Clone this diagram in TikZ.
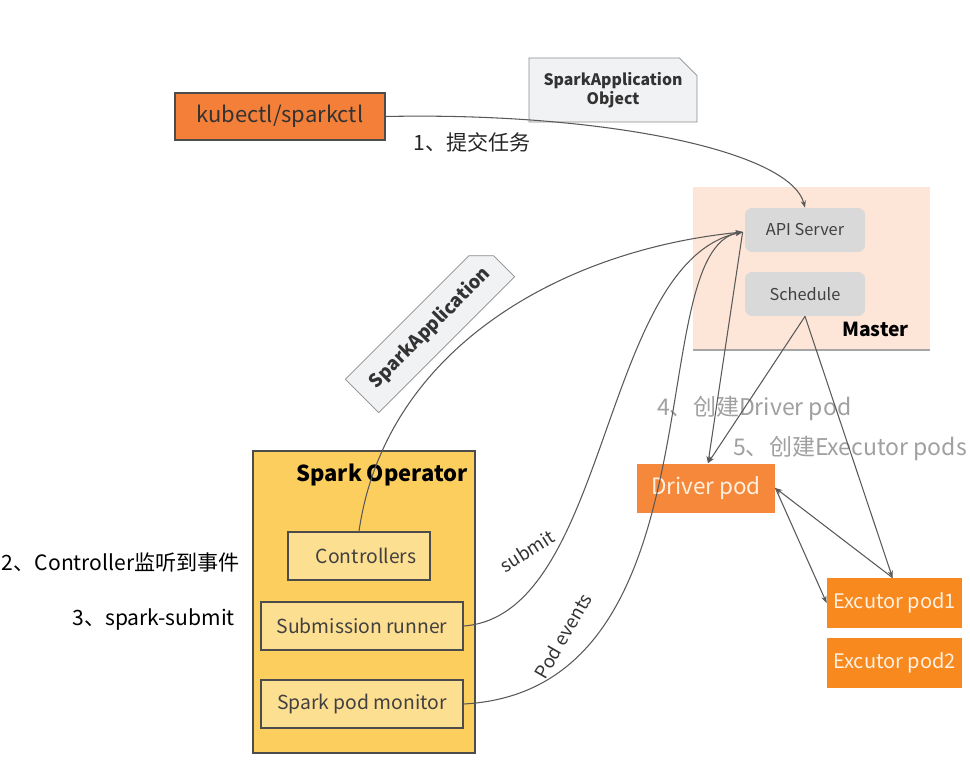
\documentclass[tikz,border=0pt]{standalone}
\usepackage{fontspec}
\setmainfont{Noto Sans CJK SC}
\usepackage{xcolor}
\usetikzlibrary{arrows.meta, positioning, calc, shapes.misc}

\definecolor{ctlorange}{HTML}{F47F38}
\definecolor{podorange}{HTML}{F5883A}
\definecolor{exeorange}{HTML}{F7891F}
\definecolor{masterbg}{HTML}{FDE6D8}
\definecolor{kgray}{HTML}{D9D9D9}
\definecolor{opyellow}{HTML}{FBCE5E}
\definecolor{opinner}{HTML}{FDDF92}
\definecolor{linegray}{HTML}{595959}
\definecolor{stepgray}{HTML}{A0A0A0}
\definecolor{notebg}{HTML}{F1F2F4}

\tikzset{
    box/.style={rectangle, draw=#1, line width=0.8pt, align=center, inner sep=0pt},
    kbox/.style={rectangle, fill=kgray, rounded corners=4pt, minimum width=120*0.02cm, minimum height=44*0.02cm,
        font=\fontsize{9.3}{11}\selectfont, text=black!75},
    podbox/.style={rectangle, fill=#1, text=orange!12, inner sep=0pt},
    opbox/.style={box=black!70, fill=opinner, text=black!75, font=\fontsize{11}{13}\selectfont},
    note/.style={chamfered rectangle, chamfered rectangle corners=north east, chamfered rectangle xsep=5pt,
        chamfered rectangle ysep=5pt, draw=black!45, fill=notebg, align=center, inner sep=3pt,
        font=\bfseries\fontsize{9}{11}\selectfont, text=black!80},
    conn/.style={draw=linegray, line width=0.6pt, -{Stealth[length=4pt, width=3pt]}},
    steplabel/.style={font=\fontsize{12}{14}\selectfont},
    graylabel/.style={font=\fontsize{13.1}{15}\selectfont, text=stepgray, anchor=west},
}

\begin{document}
\begin{tikzpicture}[x=0.02cm, y=-0.02cm]
    \useasboundingbox[fill=white] (0,0) rectangle (970,767);

    % 客户端
    \node[box=black!70, fill=ctlorange, minimum width=210*0.02cm, minimum height=47*0.02cm,
        font=\fontsize{12.5}{14}\selectfont, text=black!80] (kubectl) at (280,116.5) {kubectl/sparkctl};
    \node[steplabel, text=black!85] (step1) at (472,142) {1、提交任务};
    \node[note, minimum width=168*0.02cm, minimum height=58*0.02cm] (appobj) at (613,90) {SparkApplication\\Object};

    % Master
    \fill[masterbg] (693,187) rectangle (930,350);
    \draw[black!35, line width=1pt] (693,350) -- (930,350);
    \node[font=\bfseries\fontsize{11}{13}\selectfont, anchor=south east] (master) at (915,343) {Master};
    \node[kbox] (api) at (805,230) {API Server};
    \node[kbox] (sched) at (805,294) {Schedule};

    % Spark Operator
    \node[box=black!70, fill=opyellow, minimum width=222*0.02cm, minimum height=302*0.02cm] (operator) at (364,602) {};
    \node[font=\bfseries\fontsize{12.5}{14}\selectfont, anchor=north east] (optitle) at ($(operator.north east)+(-2,7)$) {Spark Operator};
    \node[opbox, minimum width=142*0.02cm, minimum height=48*0.02cm] (ctrl) at (359,556) {\hspace{8pt}Controllers};
    \node[opbox, minimum width=202*0.02cm, minimum height=48*0.02cm] (runner) at (362,626) {Submission runner};
    \node[opbox, minimum width=202*0.02cm, minimum height=48*0.02cm] (monitor) at (362,704) {Spark pod monitor};

    % 步骤说明
    \node[steplabel, anchor=east] (step2) at (246,563) {2、Controller监听到事件};
    \node[steplabel, anchor=east] (step3) at (241,620) {3、spark-submit};
    \node[graylabel] (step4) at (651,408) {4、创建Driver pod};
    \node[graylabel] (step5) at (727,448) {5、创建Executor pods};

    % pods
    \node[podbox=podorange, minimum width=138*0.02cm, minimum height=49*0.02cm,
        font=\fontsize{12.8}{14}\selectfont] (driver) at (706,488) {Driver pod};
    \node[podbox=exeorange, minimum width=135*0.02cm, minimum height=50*0.02cm,
        font=\fontsize{11.4}{13}\selectfont] (exec1) at (894.5,603) {Excutor pod1};
    \node[podbox=exeorange, minimum width=135*0.02cm, minimum height=50*0.02cm,
        font=\fontsize{11.4}{13}\selectfont] (exec2) at (894.5,663) {Excutor pod2};

    % 连线上的标注
    \node[note, rotate=45, minimum width=192*0.02cm, minimum height=36*0.02cm,
        font=\bfseries\fontsize{10.5}{12}\selectfont] (sparkapp) at (430,328) {SparkApplication};

    % 连线
    \coordinate (apiin) at ($(api.west)+(-2,2)$);
    \coordinate (drvtop) at ($(driver.north)+(2,0)$);
    \coordinate (exectop) at ($(exec1.north)+(-2,0)$);
    \draw[conn] (kubectl.east) .. controls (600,112) and (790,150) .. (api.north);
    \draw[conn] (ctrl.north) .. controls (385,350) and (560,250) .. (apiin);
    \draw[conn] (runner.east) .. controls (610,615) and (600,262) .. (apiin);
    \draw[conn] (monitor.east) .. controls (725,690) and (640,250) .. (apiin);
    \draw[conn] (apiin) -- (drvtop);
    \draw[conn] (sched.south) -- (drvtop);
    \draw[conn] (sched.south) -- (exectop);
    \draw[conn] (driver.east) -- (exec1.west);
    \draw[conn] (exectop) -- (driver.east);

    \node[rotate=32, font=\fontsize{10.5}{12}\selectfont, text=black!80] (submitlbl) at (527,551) {submit};
    \node[rotate=60, font=\fontsize{10.5}{12}\selectfont, text=black!80] (eventlbl) at (563,636) {Pod events};
\end{tikzpicture}
\end{document}
